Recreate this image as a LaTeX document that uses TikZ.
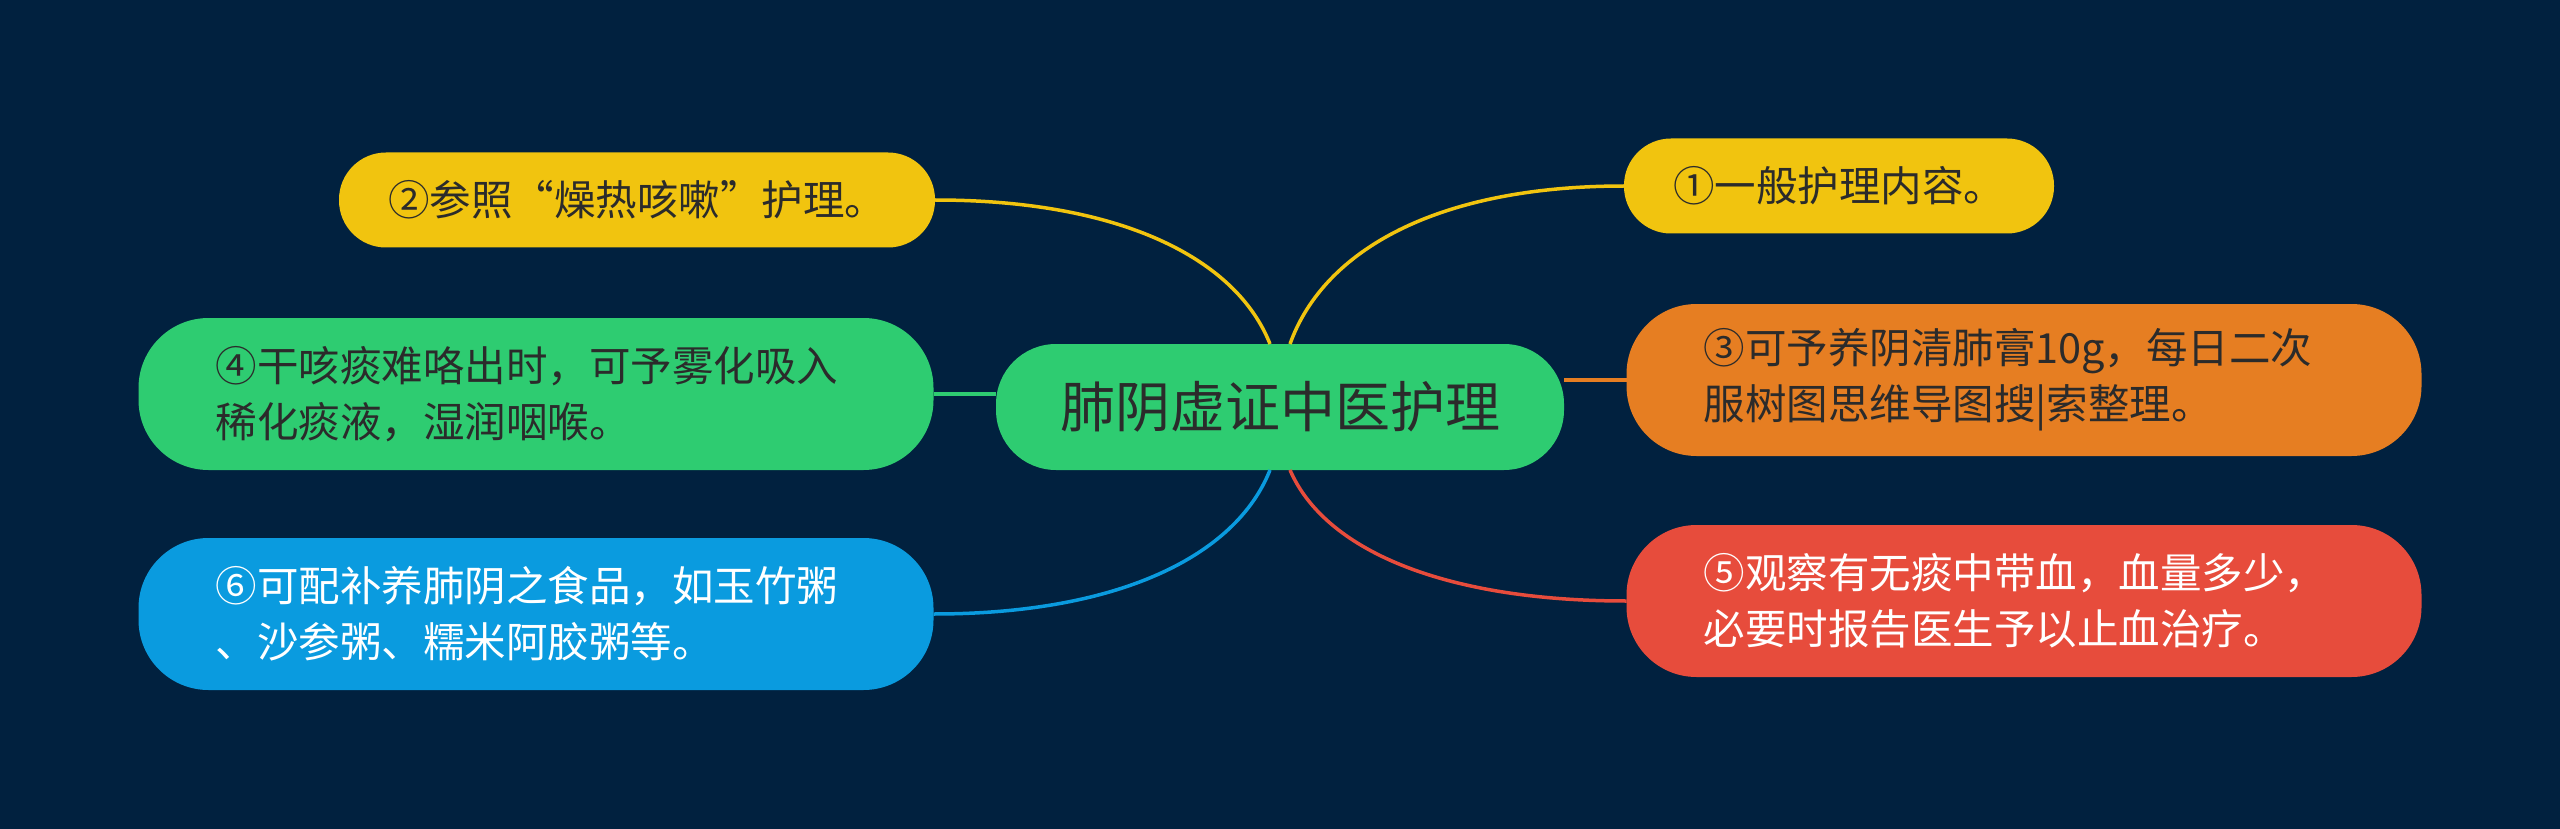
\documentclass[tikz,border=0pt]{standalone}
\usepackage{fontspec}
\setmainfont{Noto Sans CJK SC}
\usepackage{tikz}
\usetikzlibrary{calc}

\definecolor{bgnavy}{HTML}{01213F}
\definecolor{mmyellow}{HTML}{F1C40F}
\definecolor{mmgreen}{HTML}{2ECC71}
\definecolor{mmorange}{HTML}{E67E22}
\definecolor{mmred}{HTML}{E74C3C}
\definecolor{mmblue}{HTML}{0A9BDF}
\definecolor{mmtext}{HTML}{2B2B2B}

\begin{document}
\begin{tikzpicture}[x=1pt,y=-1pt,inner sep=0pt,outer sep=0pt,
    leaf/.style={font=\fontsize{41.5pt}{56pt}\selectfont, text=mmtext,
        minimum height=95pt, inner xsep=49pt, rounded corners=47pt},
    leaftwo/.style={leaf, minimum height=152pt, text width=641pt,
        inner xsep=77pt, align=left, rounded corners=70pt},
    link/.style={line width=3.5pt}]
    % background
    \fill[bgnavy] (0,0) rectangle (2560,829);

    % root
    \node[fill=mmgreen, text=mmtext, font=\fontsize{55pt}{66pt}\selectfont,
        minimum height=126pt, inner xsep=64pt, rounded corners=60pt]
        (root) at (1280, 407) {肺阴虚证中医护理};

    % right side
    \node[leaf, fill=mmyellow] (n_one) at (1839, 186) {①一般护理内容。};
    \node[leaftwo, fill=mmorange] (n_three) at (2024, 380)
    {③可予养阴清肺膏10g，每日二次\\服树图思维导图搜|索整理。};
    \node[leaftwo, fill=mmred, text=white] (n_five) at (2024, 601)
    {⑤观察有无痰中带血，血量多少，\\必要时报告医生予以止血治疗。};

    % left side
    \node[leaf, fill=mmyellow] (n_two) at (637, 200) {②参照“燥热咳嗽”护理。};
    \node[leaftwo, fill=mmgreen] (n_four) at (536, 394)
    {④干咳痰难咯出时，可予雾化吸入\\稀化痰液，湿润咽喉。};
    \node[leaftwo, fill=mmblue, text=white] (n_six) at (536, 614)
    {⑥可配补养肺阴之食品，如玉竹粥\\、沙参粥、糯米阿胶粥等。};

    % links
    \draw[link, mmyellow] ($(root.north)+(10,0)$)
        .. controls +(34,-95) and +(-185,0) .. (n_one.west);
    \draw[link, mmyellow] ($(root.north)+(-10,0)$)
        .. controls +(-34,-86) and +(185,0) .. (n_two.east);
    \draw[link, mmorange] (n_three.west -| root.east) -- (n_three.west);
    \draw[link, mmgreen] (n_four.east) -- (n_four.east -| root.west);
    \draw[link, mmred] ($(root.south)+(10,0)$)
        .. controls +(34,79) and +(-185,0) .. (n_five.west);
    \draw[link, mmblue] ($(root.south)+(-10,0)$)
        .. controls +(-34,86) and +(185,0) .. (n_six.east);
\end{tikzpicture}
\end{document}
